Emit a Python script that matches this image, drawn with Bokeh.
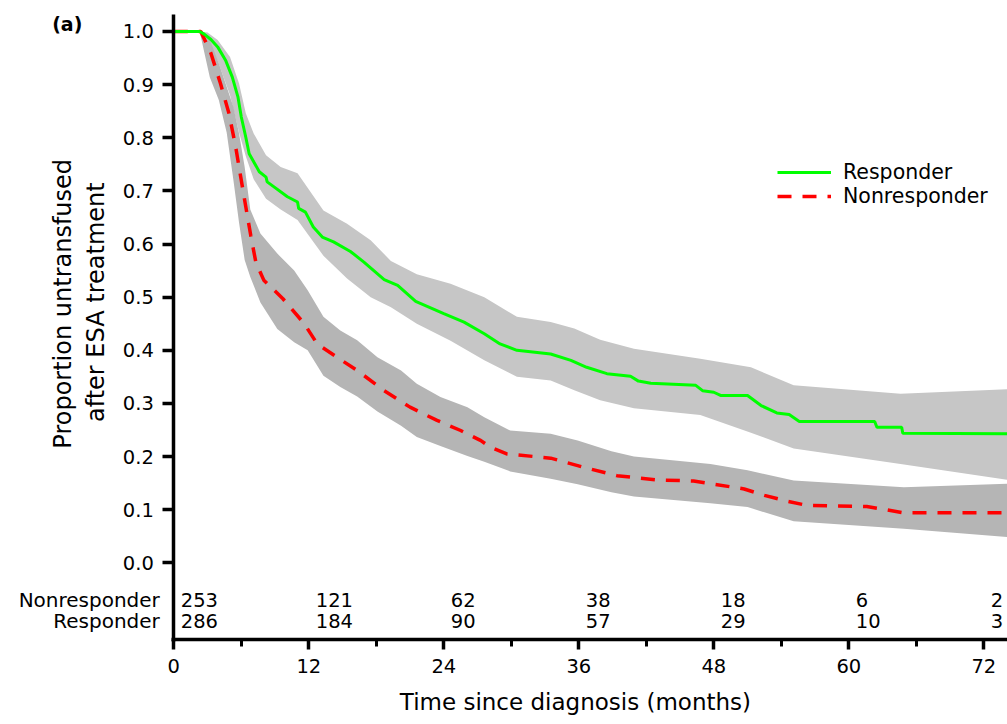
from bokeh.plotting import figure
from bokeh.models import Range1d, FixedTicker, Label, Legend, LegendItem, ColumnDataSource
from bokeh.core.properties import value
from bokeh.embed import file_html
from bokeh.resources import INLINE

# ---------------- data ----------------
# Responder Kaplan-Meier estimate
resp_t = [0, 2.3, 2.7, 3.3, 3.9, 4.6, 5.2, 5.7, 6.0, 6.4, 6.7, 7.6, 8.2, 8.3, 10.1, 11.0, 11.1, 11.7,
          12.4, 13.2, 14.2, 15.7, 16.9, 18.7, 19.9, 21.5, 24.0, 25.8, 27.6, 29.0, 30.5, 33.5, 35.3,
          36.7, 38.5, 40.6, 41.3, 42.4, 46.4, 47.0, 48.0, 48.6, 51.0, 52.2, 53.6, 54.7, 55.6, 62.3,
          62.5, 64.7, 64.8, 74.5]
resp_s = [1.0, 1.0, 0.995, 0.985, 0.971, 0.946, 0.914, 0.877, 0.839, 0.801, 0.770, 0.736, 0.726,
          0.717, 0.689, 0.679, 0.667, 0.660, 0.632, 0.613, 0.604, 0.586, 0.566, 0.533, 0.522, 0.492,
          0.469, 0.453, 0.431, 0.412, 0.400, 0.393, 0.381, 0.368, 0.356, 0.351, 0.342, 0.338, 0.334,
          0.324, 0.321, 0.315, 0.315, 0.296, 0.282, 0.279, 0.266, 0.266, 0.255, 0.255, 0.244, 0.243]
# Responder confidence band
resp_band_t = [2.3, 3.0, 3.9, 5.0, 5.8, 6.4, 7.1, 8.2, 9.5, 11.0, 13.3, 15.4, 17.5, 19.3, 21.6, 24.6,
               27.6, 30.5, 33.5, 35.6, 37.9, 40.9, 46.8, 51.3, 55.1, 64.6, 74.5]
resp_hi = [1.0, 0.998, 0.984, 0.952, 0.902, 0.846, 0.808, 0.767, 0.745, 0.733, 0.663, 0.638, 0.607,
           0.568, 0.543, 0.525, 0.500, 0.463, 0.453, 0.441, 0.420, 0.403, 0.384, 0.368, 0.334, 0.318,
           0.327]
resp_lo = [1.0, 0.975, 0.945, 0.880, 0.810, 0.765, 0.722, 0.685, 0.665, 0.645, 0.578, 0.535, 0.500,
           0.481, 0.450, 0.418, 0.381, 0.350, 0.343, 0.325, 0.306, 0.291, 0.278, 0.245, 0.215, 0.186,
           0.155]

# Nonresponder Kaplan-Meier estimate
nonresp_t = [0, 2.4, 3.3, 4.15, 4.9, 5.5, 5.95, 6.4, 6.85, 7.3, 8.0, 9.7, 11.6, 12.75, 14.5, 16.3,
             18.7, 21.0, 23.4, 25.5, 27.3, 28.1, 29.6, 33.5, 36.4, 39.4, 43.0, 46.2, 50.7, 52.5, 54.5,
             56.3, 61.6, 64.9, 74.5]
nonresp_s = [1.0, 1.0, 0.959, 0.902, 0.846, 0.783, 0.726, 0.670, 0.615, 0.565, 0.532, 0.497, 0.450,
             0.412, 0.387, 0.362, 0.324, 0.293, 0.268, 0.249, 0.230, 0.218, 0.205, 0.197, 0.180, 0.164,
             0.156, 0.154, 0.139, 0.127, 0.116, 0.108, 0.106, 0.094, 0.094]
# Nonresponder confidence band
nonresp_band_t = [2.3, 3.2, 4.0, 4.7, 5.3, 5.8, 6.3, 6.8, 7.7, 9.2, 10.7, 11.9, 13.3, 14.8, 16.3,
                  18.1, 20.2, 21.6, 23.7, 26.1, 27.6, 29.9, 33.5, 35.9, 38.9, 40.9, 47.7, 51.0, 55.1,
                  64.9, 74.5]
nonresp_hi = [1.0, 0.985, 0.940, 0.896, 0.858, 0.808, 0.745, 0.665, 0.620, 0.582, 0.550, 0.513,
              0.463, 0.437, 0.419, 0.387, 0.362, 0.337, 0.312, 0.293, 0.274, 0.249, 0.243, 0.230,
              0.210, 0.200, 0.186, 0.174, 0.155, 0.142, 0.149]
nonresp_lo = [1.0, 0.914, 0.871, 0.810, 0.720, 0.640, 0.570, 0.538, 0.490, 0.440, 0.415, 0.400,
              0.352, 0.331, 0.313, 0.285, 0.258, 0.237, 0.220, 0.201, 0.190, 0.172, 0.158, 0.148,
              0.133, 0.125, 0.112, 0.105, 0.078, 0.064, 0.048]

# Numbers at risk
risk_times = [0, 12, 24, 36, 48, 60, 72]
nonresp_at_risk = [253, 121, 62, 38, 18, 6, 2]
resp_at_risk = [286, 184, 90, 57, 29, 10, 3]

# Axis ticks
x_ticks = [0, 12, 24, 36, 48, 60, 72]
x_minor_ticks = [6, 18, 30, 42, 54, 66]
y_ticks = [0.0, 0.1, 0.2, 0.3, 0.4, 0.5, 0.6, 0.7, 0.8, 0.9, 1.0]
y_tick_labels = ["0.0", "0.1", "0.2", "0.3", "0.4", "0.5", "0.6", "0.7", "0.8", "0.9", "1.0"]

series_names = ["Responder", "Nonresponder"]
x_title = "Time since diagnosis (months)"
y_title_lines = ["Proportion untransfused", "after ESA treatment"]
panel_tag = "(a)"

# ---------------- figure ----------------
FONT = "DejaVu Sans"
ROW_N = -0.0691   # at-risk table row positions (data units)
ROW_R = -0.1099
Y_BOTTOM = -0.1444  # where the x axis sits

p = figure(width=1007, height=724, output_backend="svg", toolbar_location=None, title=None,
           x_range=Range1d(-15.404, 74.107), y_range=Range1d(-0.3043, 1.0583),
           min_border_left=0, min_border_right=0, min_border_top=0, min_border_bottom=0)
p.outline_line_color = None
p.grid.visible = False
p.background_fill_color = "white"
p.border_fill_color = "white"

# bands
p.varea(x=resp_band_t, y1=resp_lo, y2=resp_hi, fill_color="#C6C6C6")
p.varea(x=nonresp_band_t, y1=nonresp_lo, y2=nonresp_hi, fill_color="#B5B5B5")

# curves
r_line = p.line(nonresp_t, nonresp_s, line_color="#FF0000", line_width=3.5, line_dash="14 11")
g_line = p.line(resp_t, resp_s, line_color="#00FF00", line_width=3)

# axes (placed inside the frame at fixed data locations)
xa = p.xaxis[0]
xa.ticker = FixedTicker(ticks=x_ticks, minor_ticks=x_minor_ticks)
xa.fixed_location = Y_BOTTOM
xa.bounds = (-0.16, 74.2)
ya = p.yaxis[0]
ya.ticker = FixedTicker(ticks=y_ticks, minor_ticks=[])
ya.major_label_overrides = {t: s for t, s in zip(y_ticks, y_tick_labels)}
ya.fixed_location = 0
ya.bounds = (Y_BOTTOM - 0.003, 1.032)
for ax in (xa, ya):
    ax.major_label_text_font = FONT
    ax.major_label_text_font_size = "19.5px"
    ax.major_label_text_color = "black"
    ax.axis_line_width = 3.5
    ax.axis_line_color = "black"
    ax.major_tick_line_width = 3.5
    ax.minor_tick_line_width = 3
    ax.major_tick_in = 0
    ax.minor_tick_in = 0
xa.major_tick_out = 10
xa.minor_tick_out = 7
xa.major_label_standoff = 9
ya.major_tick_out = 11
ya.minor_tick_out = 0
ya.major_label_standoff = 9

# numbers at risk
src_n = ColumnDataSource(dict(x=risk_times, y=[ROW_N] * len(risk_times),
                              t=[str(v) for v in nonresp_at_risk]))
src_r = ColumnDataSource(dict(x=risk_times, y=[ROW_R] * len(risk_times),
                              t=[str(v) for v in resp_at_risk]))
for src in (src_n, src_r):
    p.text(x="x", y="y", text="t", source=src, x_offset=7, text_align="left",
           text_baseline="middle", text_font=value(FONT), text_font_size=value("19.5px"),
           text_color="black")

# row labels for the at-risk table
for name, yy in ((series_names[1], ROW_N), (series_names[0], ROW_R)):
    p.add_layout(Label(x=-1.24, y=yy, text=name, text_align="right", text_baseline="middle",
                       text_font=FONT, text_font_size="20px", text_color="black"))

# axis titles
p.add_layout(Label(x=35.7, y=-0.2626, text=x_title, text_align="center",
                   text_baseline="middle", text_font=FONT, text_font_size="23px",
                   text_color="black"))
p.add_layout(Label(x=-9.85, y=0.4875, text=y_title_lines[0], angle=1.5707963, text_align="center",
                   text_baseline="middle", text_font=FONT, text_font_size="24px",
                   text_color="black"))
p.add_layout(Label(x=-6.89, y=0.4905, text=y_title_lines[1], angle=1.5707963, text_align="center",
                   text_baseline="middle", text_font=FONT, text_font_size="24px",
                   text_color="black"))

# panel tag
p.add_layout(Label(x=-10.81, y=1.015, text=panel_tag, text_align="left", text_baseline="middle",
                   text_font=FONT, text_font_size="19px", text_font_style="bold",
                   text_color="black"))

# legend
legend = Legend(items=[LegendItem(label=series_names[0], renderers=[g_line]),
                       LegendItem(label=series_names[1], renderers=[r_line])],
                location=(777, 516), orientation="vertical", glyph_width=54, glyph_height=24,
                label_height=24, label_standoff=12, spacing=0, padding=0, margin=0,
                border_line_alpha=0, background_fill_alpha=0, label_text_font=FONT,
                label_text_font_size="20.5px", label_text_baseline="middle",
                label_text_color="black")
p.add_layout(legend)

open("out.html", "w").write(file_html(p, INLINE))
